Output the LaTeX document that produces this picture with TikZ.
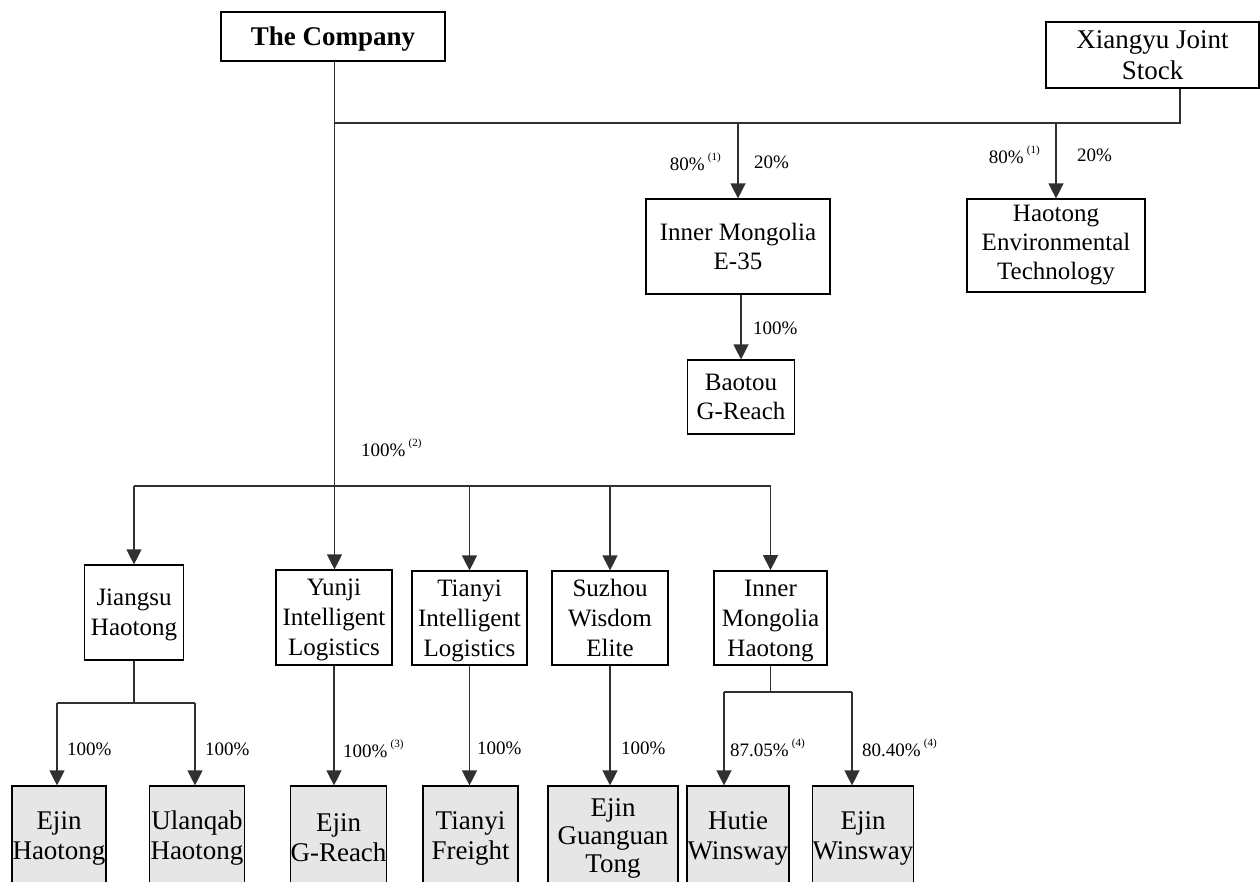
\documentclass[tikz,border=0pt]{standalone}
\usepackage{fontspec}
\setmainfont{Liberation Serif}
\usetikzlibrary{arrows.meta}
\definecolor{leafgray}{HTML}{E6E6E6}
\definecolor{lncol}{HTML}{303030}
\newcommand{\fnote}[1]{\,\raisebox{0.55em}{\fontsize{11}{11}\selectfont(#1)}}
\begin{document}
\begin{tikzpicture}[x=1pt,y=-1pt,
  box/.style={draw=black, line width=1.2pt, align=center, inner sep=0pt, font=\fontsize{25}{29}\selectfont},
  midbox/.style={box, text depth=0pt, font=\fontsize{25}{30}\selectfont},
  leaf/.style={box, fill=leafgray, font=\fontsize{27}{30}\selectfont},
  ln/.style={draw=lncol, line width=1.3pt},
  arr/.style={ln, -{Triangle[width=15pt,length=15pt]}},
  pct/.style={font=\fontsize{19}{19}\selectfont, inner sep=0pt},
]
\useasboundingbox[fill=white] (0,0) rectangle (1260,881);

% top level
\node[box, minimum width=224pt, minimum height=49pt, text depth=0pt, font=\bfseries\fontsize{27}{30}\selectfont] (company) at (333,36.5) {The Company};
\node[box, minimum width=213pt, minimum height=66pt, font=\fontsize{27}{31}\selectfont] (xiangyu) at (1152.5,55) {Xiangyu Joint\\Stock};

% second level
\node[box, minimum width=184pt, minimum height=95pt] (e35) at (738,246.5) {Inner Mongolia\\E-35};
\node[box, minimum width=178pt, minimum height=93pt] (henv) at (1056,245.5) {Haotong\\Environmental\\Technology};
\node[box, minimum width=107pt, minimum height=74pt] (baotou) at (741,397) {Baotou\\G-Reach};

% third level
\node[midbox, minimum width=99pt, minimum height=95pt] (jiangsu) at (134,612.5) {Jiangsu\\Haotong};
\node[midbox, minimum width=116pt, minimum height=95pt] (yunji) at (334,617.5) {Yunji\\Intelligent\\Logistics};
\node[midbox, minimum width=115pt, minimum height=94pt] (tianyi) at (469.5,618) {Tianyi\\Intelligent\\Logistics};
\node[midbox, minimum width=116pt, minimum height=94pt] (suzhou) at (610,618) {Suzhou\\Wisdom\\Elite};
\node[midbox, line width=1.8pt, minimum width=113pt, minimum height=94pt] (imh) at (770.5,618) {Inner\\Mongolia\\Haotong};

% leaves
\node[leaf, minimum width=94pt, minimum height=104pt] (ejinh) at (59,838) {Ejin\\Haotong};
\node[leaf, minimum width=95pt, minimum height=104pt] (ulanqab) at (197,838) {Ulanqab\\Haotong};
\node[leaf, minimum width=95pt, minimum height=104pt] (ejing) at (338.5,838) {Ejin\\G-Reach};
\node[leaf, minimum width=95pt, minimum height=104pt] (tfreight) at (470.5,838) {Tianyi\\Freight};
\node[leaf, minimum width=130pt, minimum height=104pt, font=\fontsize{27}{28}\selectfont] (guan) at (613,838) {Ejin\\Guanguan\\Tong};
\node[leaf, minimum width=102pt, minimum height=104pt] (hutie) at (738,838) {Hutie\\Winsway};
\node[leaf, minimum width=100pt, minimum height=104pt] (ejinw) at (863,838) {Ejin\\Winsway};

% junction coordinates
\coordinate (xyj) at (1180,123);
\coordinate (busb) at (334.5,486);
\coordinate (jsplit) at (134,703);
\coordinate (jl) at (57,703);
\coordinate (jr) at (195,703);
\coordinate (isplit) at (770.5,692);
\coordinate (il) at (724,692);
\coordinate (ir) at (852,692);

% top connectors
\draw[ln] (company.south -| busb) -- (busb);
\draw[ln] (xiangyu.south -| xyj) -- (xyj) -- (xyj -| busb);
\draw[arr] (e35.north |- xyj) -- (e35.north);
\draw[arr] (henv.north |- xyj) -- (henv.north);
\draw[arr] (e35.south -| baotou.north) -- (baotou.north);

% bottom bus
\draw[ln] (busb -| jiangsu.north) -- (busb -| imh.north);
\draw[arr] (busb -| jiangsu.north) -- (jiangsu.north);
\draw[arr] (busb) -- (busb |- yunji.north);
\draw[arr] (busb -| tianyi.north) -- (tianyi.north);
\draw[arr] (busb -| suzhou.north) -- (suzhou.north);
\draw[arr] (busb -| imh.north) -- (imh.north);

% jiangsu split
\draw[ln] (jiangsu.south) -- (jsplit);
\draw[ln] (jl) -- (jr);
\draw[arr] (jl) -- (jl |- ejinh.north);
\draw[arr] (jr) -- (jr |- ulanqab.north);

% single chains
\draw[arr] (yunji.south) -- (yunji.south |- ejing.north);
\draw[arr] (tianyi.south) -- (tianyi.south |- tfreight.north);
\draw[arr] (suzhou.south) -- (suzhou.south |- guan.north);

% IM Haotong split
\draw[ln] (imh.south) -- (isplit);
\draw[ln] (il) -- (ir);
\draw[arr] (il) -- (il |- hutie.north);
\draw[arr] (ir) -- (ir |- ejinw.north);

% percentage labels
\node[pct, anchor=east] (p1) at (721,162) {80\%\fnote{1}};
\node[pct, anchor=west] (p2) at (754,162) {20\%};
\node[pct, anchor=east] (p3) at (1040,155) {80\%\fnote{1}};
\node[pct, anchor=west] (p4) at (1077,155) {20\%};
\node[pct, anchor=west] (p5) at (753,328) {100\%};
\node[pct, anchor=west] (p6) at (361,448) {100\%\fnote{2}};
\node[pct, anchor=west] (p7) at (67,749) {100\%};
\node[pct, anchor=west] (p8) at (205,749) {100\%};
\node[pct, anchor=west] (p9) at (343,749) {100\%\fnote{3}};
\node[pct, anchor=west] (p10) at (477,748) {100\%};
\node[pct, anchor=west] (p11) at (621,748) {100\%};
\node[pct, anchor=west] (p12) at (730,748) {87.05\%\fnote{4}};
\node[pct, anchor=west] (p13) at (862,748) {80.40\%\fnote{4}};
\end{tikzpicture}
\end{document}
